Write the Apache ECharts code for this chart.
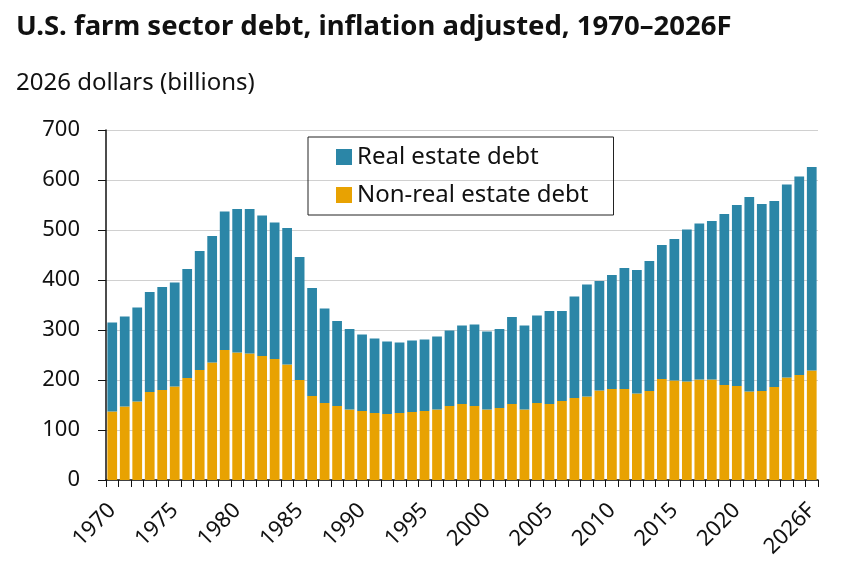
<!DOCTYPE html>
<html>
<head>
<meta charset="utf-8">
<script src="https://cdn.jsdelivr.net/npm/echarts@6/dist/echarts.min.js"></script>
<style>
html,body{margin:0;padding:0;background:#fff;}
#chart{width:843px;height:575px;}
</style>
</head>
<body>
<div id="chart"></div>
<script>
const years = ['1970','1971','1972','1973','1974','1975','1976','1977','1978','1979',
  '1980','1981','1982','1983','1984','1985','1986','1987','1988','1989',
  '1990','1991','1992','1993','1994','1995','1996','1997','1998','1999',
  '2000','2001','2002','2003','2004','2005','2006','2007','2008','2009',
  '2010','2011','2012','2013','2014','2015','2016','2017','2018','2019',
  '2020','2021','2022','2023','2024','2025','2026F'];
const totalDebt = [315,327,345,376,386,395,422,458,488,537,
  542,542,529,515,504,446,384,343,318,302,
  291,283,277,275,279,281,287,299,309,311,
  297,302,326,309,329,338,338,367,391,398,
  410,424,420,438,470,482,501,513,518,532,
  550,566,552,558,591,607,626];
const nonRealEstate = [137,147,157,176,180,187,204,220,235,260,
  255,253,248,242,231,200,168,154,148,141,
  138,134,132,134,136,138,141,148,152,148,
  141,144,152,141,154,152,158,164,167,179,
  182,182,173,178,202,199,197,201,201,190,
  188,177,178,186,205,210,219];
const realEstate = totalDebt.map((t, i) => t - nonRealEstate[i]);
const yTicks = [0,100,200,300,400,500,600,700];

const FONT = '"Source Sans Pro","Noto Sans",sans-serif';
const chart = echarts.init(document.getElementById('chart'));
chart.setOption({
  animation: false,
  textStyle: {fontFamily: FONT},
  title: [
    {text: 'U.S. farm sector debt, inflation adjusted, 1970–2026F', left: 11, top: 8,
     textStyle: {fontSize: 27.5, fontWeight: 'bold', color: '#111', fontFamily: FONT}},
    {text: '2026 dollars (billions)', left: 11, top: 66,
     textStyle: {fontSize: 24, fontWeight: 'normal', color: '#111', fontFamily: FONT}}
  ],
  legend: {
    orient: 'vertical', left: 308, top: 137,
    data: ['Real estate debt', 'Non-real estate debt'],
    borderColor: '#222', borderWidth: 1,
    padding: [7, 25, 7, 28],
    itemWidth: 16, itemHeight: 16, itemGap: 12,
    icon: 'rect',
    textStyle: {fontSize: 24, lineHeight: 26, color: '#111', fontFamily: FONT}
  },
  grid: {left: 106, right: 25, top: 130, bottom: 95, containLabel: false},
  xAxis: {
    type: 'category', data: years,
    axisLine: {lineStyle: {color: '#111', width: 1.5}},
    axisTick: {show: true, interval: 0, alignWithLabel: false, length: 7, lineStyle: {color: '#111'}},
    axisLabel: {
      rotate: 45, fontSize: 22, color: '#111', margin: 27,
      interval: (i) => (i % 5 === 0 && i <= 50) || i === 56
    }
  },
  yAxis: {
    type: 'value', min: 0, max: 700, interval: 100,
    axisLine: {show: true, lineStyle: {color: '#111', width: 1.5}},
    axisTick: {show: true, length: 8, lineStyle: {color: '#111'}},
    axisLabel: {fontSize: 22, color: '#111', margin: 26,
      formatter: (v) => yTicks.includes(v) ? String(v) : ''},
    splitLine: {lineStyle: {color: '#d0d0d0'}}
  },
  series: [
    {name: 'Non-real estate debt', type: 'bar', stack: 'debt', data: nonRealEstate,
     itemStyle: {color: '#e8a202'}, barCategoryGap: '22%'},
    {name: 'Real estate debt', type: 'bar', stack: 'debt', data: realEstate,
     itemStyle: {color: '#2b86a7'}}
  ]
});
</script>
</body>
</html>
